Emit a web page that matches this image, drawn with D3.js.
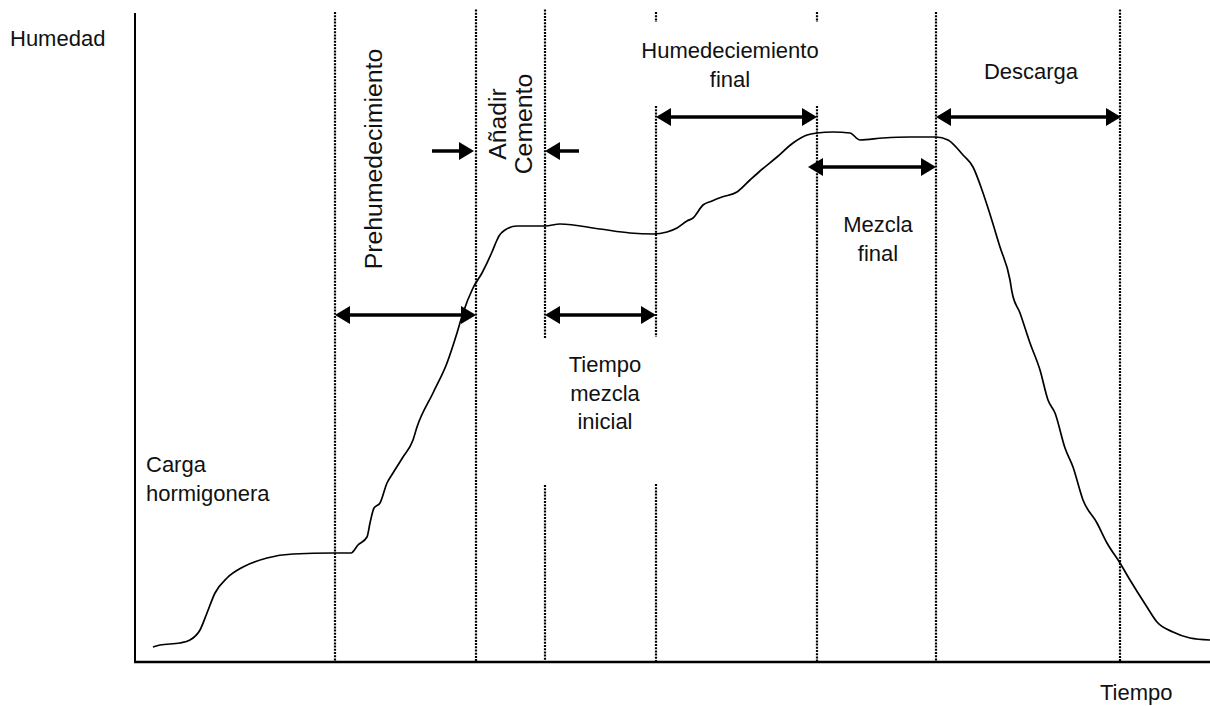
<!DOCTYPE html>
<html>
<head>
<meta charset="utf-8">
<script src="https://cdn.jsdelivr.net/npm/d3@7"></script>
<style>
  body { margin: 0; background: #fff; }
  svg { display: block; }
  text { font-family: "Liberation Sans", Arial, sans-serif; fill: #111; }
</style>
</head>
<body>
<svg id="chart" width="1210" height="706"></svg>
<script>
// curva de humedad (unidades arbitrarias)
const time = [3.6, 5.0, 9.0, 11.0, 13.0, 14.4, 16.0, 18.4, 21.6, 26.4, 31.6, 39.6, 43.2, 44.6, 46.4, 47.0, 47.8, 49.0, 50.4, 51.6, 53.6, 55.6, 56.4, 59.6, 62.4, 64.4, 65.6, 67.6, 69.4, 71.4, 72.4, 72.8, 74.0, 76.4, 82.0, 85.0, 93.0, 99.0, 103.6, 106.4, 108.4, 110.4, 111.6, 113.6, 115.4, 117.4, 120.4, 123.0, 125.0, 128.4, 131.6, 134.4, 136.4, 139.6, 143.0, 145.0, 149.6, 155.0, 160.2, 162.6, 165.6, 167.6, 169.4, 170.6, 173.0, 175.0, 175.4, 177.0, 179.0, 181.0, 182.6, 184.0, 186.0, 187.6, 189.6, 192.4, 194.4, 197.0, 199.0, 202.4, 204.4, 207.6, 211.0, 215.0];
const humidity = [3.0, 3.4, 3.8, 4.4, 6.4, 9.8, 13.8, 16.8, 19.0, 20.8, 21.6, 21.8, 21.8, 23.4, 25.0, 27.8, 30.8, 31.8, 35.8, 37.8, 41.0, 44.4, 47.0, 53.8, 59.8, 65.8, 69.8, 74.8, 77.8, 82.0, 84.4, 85.2, 86.4, 87.2, 87.2, 87.6, 86.6, 85.8, 85.6, 86.0, 86.8, 88.2, 88.8, 91.4, 92.2, 93.0, 94.0, 96.4, 98.2, 101.0, 103.8, 105.4, 105.8, 106.0, 105.8, 104.4, 104.8, 105.0, 105.0, 104.4, 101.4, 99.0, 94.4, 90.8, 83.0, 76.4, 74.0, 69.8, 63.8, 58.4, 52.4, 49.8, 42.8, 39.0, 32.4, 27.8, 23.8, 19.8, 16.4, 11.0, 8.0, 6.0, 4.8, 4.4];

// limites de fases y tramos visibles de cada linea punteada
const phaseBounds = [40.0, 68.2, 82.0, 104.2, 136.4, 160.2, 197.0];
const boundSegments = [
  [[0, 130]],
  [[0, 130.5]],
  [[0, 35.4], [64.8, 130.5]],
  [[0, 35.6], [65, 111.2], [128, 130]],
  [[0, 111.2], [128, 130]],
  [[0, 130]],
  [[0, 130.5]]
];

// flechas de duracion
const spanArrows = [
  { from: 40.0, to: 68.2, h: 69.4 },
  { from: 82.0, to: 104.2, h: 69.4 },
  { from: 104.2, to: 136.4, h: 109.0 },
  { from: 134.6, to: 160.2, h: 99.0 },
  { from: 160.2, to: 197.2, h: 109.0 }
];
const pointArrows = [
  { from: 59.4, to: 67.8, h: 102.2 },
  { from: 88.8, to: 82.0, h: 102.2 }
];

// etiquetas
const labels = [
  { lines: ['Humedeciemiento', 'final'], t: 119.0, h: 120.8, anchor: 'middle' },
  { lines: ['Descarga'], t: 179.2, h: 116.6, anchor: 'middle' },
  { lines: ['Mezcla', 'final'], t: 148.6, h: 86.0, anchor: 'middle' },
  { lines: ['Tiempo', 'mezcla', 'inicial'], t: 94.0, h: 58.0, anchor: 'middle' },
  { lines: ['Carga', 'hormigonera'], t: 2.2, h: 38.0, anchor: 'start' }
];
const rotLabels = [
  { text: 'Prehumedecimiento', t: 49.4, h: 100.6 },
  { text: 'Añadir', t: 74.2, h: 107.6 },
  { text: 'Cemento', t: 79.4, h: 107.6 }
];

const svg = d3.select('#chart');
const x = d3.scaleLinear().domain([0, 215]).range([135, 1210]);
const y = d3.scaleLinear().domain([0, 130]).range([662, 12]);

// ejes
svg.append('line')
  .attr('x1', x(0)).attr('x2', x(0)).attr('y1', y(129.8)).attr('y2', y(0))
  .attr('stroke', '#000').attr('stroke-width', 2);
svg.append('line')
  .attr('x1', x(0) - 1).attr('x2', x(215)).attr('y1', y(0)).attr('y2', y(0))
  .attr('stroke', '#000').attr('stroke-width', 2.5);

// lineas punteadas
phaseBounds.forEach((b, i) => {
  svg.append('g').selectAll('line')
    .data(boundSegments[i])
    .join('line')
    .attr('x1', x(b)).attr('x2', x(b))
    .attr('y1', d => y(d[1])).attr('y2', d => y(d[0]))
    .attr('stroke', '#000')
    .attr('stroke-width', 2.2)
    .attr('stroke-dasharray', '2,1.2');
});

// curva
const pts = time.map((t, i) => [t, humidity[i]]);
svg.append('path')
  .datum(pts)
  .attr('fill', 'none')
  .attr('stroke', '#000')
  .attr('stroke-width', 1.7)
  .attr('stroke-linejoin', 'round')
  .attr('d', d3.line().curve(d3.curveMonotoneX).x(d => x(d[0])).y(d => y(d[1])));

// flechas
const headLen = 15, headHalf = 9;
function head(g, tipX, yy, dir) {
  // dir = 1 apunta a la derecha, -1 a la izquierda
  g.append('path')
    .attr('d', `M${tipX},${yy}L${tipX - dir * headLen},${yy - headHalf}L${tipX - dir * headLen},${yy + headHalf}Z`)
    .attr('fill', '#000');
}
const ag = svg.append('g');
spanArrows.forEach(a => {
  const x0 = x(a.from), x1 = x(a.to), yy = y(a.h);
  ag.append('line')
    .attr('x1', x0 + headLen - 2).attr('x2', x1 - headLen + 2)
    .attr('y1', yy).attr('y2', yy)
    .attr('stroke', '#000').attr('stroke-width', 3.5);
  head(ag, x0, yy, -1);
  head(ag, x1, yy, 1);
});
pointArrows.forEach(a => {
  const x0 = x(a.from), x1 = x(a.to), yy = y(a.h);
  const dir = x1 > x0 ? 1 : -1;
  ag.append('line')
    .attr('x1', x0).attr('x2', x1 - dir * (headLen - 2))
    .attr('y1', yy).attr('y2', yy)
    .attr('stroke', '#000').attr('stroke-width', 3.5);
  head(ag, x1, yy, dir);
});

// textos
labels.forEach(l => {
  const t = svg.append('text')
    .attr('x', x(l.t)).attr('y', y(l.h))
    .attr('text-anchor', l.anchor)
    .style('font-size', '22px');
  l.lines.forEach((s, i) => {
    t.append('tspan').attr('x', x(l.t)).attr('dy', i === 0 ? 0 : 28.5).text(s);
  });
});
rotLabels.forEach(l => {
  svg.append('text')
    .attr('transform', `translate(${x(l.t)},${y(l.h)})rotate(-90)`)
    .attr('text-anchor', 'middle')
    .style('font-size', '24.8px')
    .text(l.text);
});

svg.append('text').attr('x', 10).attr('y', 46).style('font-size', '22px').text('Humedad');
svg.append('text').attr('x', 1100).attr('y', 700).style('font-size', '22px').text('Tiempo');
</script>
</body>
</html>
